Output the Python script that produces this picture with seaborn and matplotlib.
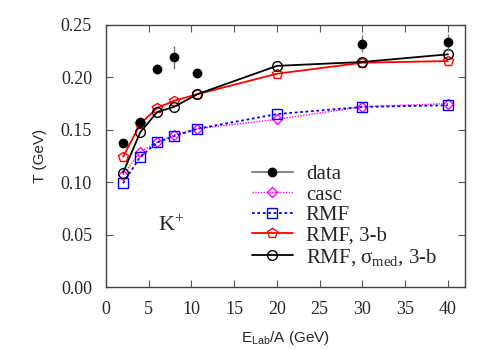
import matplotlib
matplotlib.use("Agg")
import matplotlib.pyplot as plt
import seaborn as sns
import pandas as pd
from matplotlib.lines import Line2D

E = [2, 4, 6, 8, 10.7, 20, 30, 40]
E_data = [2, 4, 6, 8, 10.7, 30, 40]
T_data = [0.1377, 0.1577, 0.208, 0.219, 0.204, 0.232, 0.2335]
T_err = [0.003, 0.003, 0.005, 0.011, 0.005, 0.008, 0.008]
T_casc = [0.107, 0.129, 0.138, 0.145, 0.151, 0.160, 0.172, 0.175]
T_rmf = [0.099, 0.1243, 0.138, 0.144, 0.151, 0.165, 0.1718, 0.1734]
T_rmf3b = [0.1243, 0.1555, 0.171, 0.1778, 0.184, 0.2035, 0.214, 0.2156]
T_rmfsig = [0.109, 0.1476, 0.167, 0.172, 0.184, 0.211, 0.2147, 0.222]

sns.set_style("ticks")
plt.rcParams["mathtext.fontset"] = "custom"
plt.rcParams["mathtext.rm"] = "Liberation Serif"
plt.rcParams["mathtext.it"] = "Liberation Serif:italic"
plt.rcParams["mathtext.sf"] = "Liberation Sans"
serif = ["Liberation Serif", "DejaVu Serif"]
sans = ["Liberation Sans", "DejaVu Sans"]

fig = plt.figure(figsize=(5, 3.5), dpi=100)
ax = fig.add_axes([0.212, 0.18, 0.718, 0.7486])

df = pd.DataFrame({"E": E, "casc": T_casc, "RMF": T_rmf, "RMF3b": T_rmf3b, "RMFsig": T_rmfsig})

sns.lineplot(data=df, x="E", y="casc", ax=ax, color="#ff00ff", linestyle=(0, (1, 1)), lw=1.0,
             marker="D", markersize=5, markerfacecolor="none", markeredgecolor="#ff00ff", markeredgewidth=1.0)
sns.lineplot(data=df, x="E", y="RMF", ax=ax, color="#0000ff", linestyle=(0, (1.5, 1.5)), lw=1.3,
             marker="s", markersize=6.5, markerfacecolor="none", markeredgecolor="#0000ff", markeredgewidth=1.0)
sns.lineplot(data=df, x="E", y="RMF3b", ax=ax, color="#ff0000", lw=1.3,
             marker="p", markersize=7.5, markerfacecolor="none", markeredgecolor="#ff0000", markeredgewidth=1.0)
sns.lineplot(data=df, x="E", y="RMFsig", ax=ax, color="black", lw=1.3,
             marker="o", markersize=7, markerfacecolor="none", markeredgecolor="black", markeredgewidth=1.0)
ax.errorbar(E_data, T_data, yerr=T_err, fmt="o", color="black", ecolor="#777777",
            elinewidth=1.0, markersize=6, capsize=0, zorder=5)

ax.set_xlim(0, 42)
ax.set_ylim(0, 0.25)
ax.set_xticks(range(0, 41, 5))
ax.set_yticks([0, 0.05, 0.10, 0.15, 0.20, 0.25])
ax.set_yticklabels(["0.00", "0.05", "0.10", "0.15", "0.20", "0.25"])
ax.tick_params(direction="in", top=True, right=True, length=5, width=0.8, color="#555555",
               labelsize=13)
ax.tick_params(axis="x", pad=10)
ax.tick_params(axis="y", pad=10)
for lab in ax.get_xticklabels() + ax.get_yticklabels():
    lab.set_family(serif)
for s in ax.spines.values():
    s.set_color("#444444")
    s.set_linewidth(1.0)

ax.set_xlabel(r"E$_{\mathsf{Lab}}$/A (GeV)", family=sans, fontsize=11, labelpad=8)
ax.set_ylabel("T (GeV)", family=sans, fontsize=11, labelpad=10)

ax.text(6.1, 0.058, r"K$^{+}$", family=serif, fontsize=16, ha="left", va="center")

handles = [
    Line2D([], [], color="#888888", lw=1.5, marker="o", markersize=6, markerfacecolor="black", markeredgecolor="black"),
    Line2D([], [], color="#ff00ff", lw=1.0, linestyle=(0, (1, 1)), marker="D", markersize=5, markerfacecolor="none"),
    Line2D([], [], color="#0000ff", lw=1.3, linestyle=(0, (1.5, 1.5)), marker="s", markersize=6.5, markerfacecolor="none"),
    Line2D([], [], color="#ff0000", lw=1.3, marker="p", markersize=7.5, markerfacecolor="none"),
    Line2D([], [], color="black", lw=1.3, marker="o", markersize=7, markerfacecolor="none"),
]
labels = ["data", "casc", "RMF", "RMF, 3-b", "RMF, σ$_{\\mathrm{med}}$, 3-b"]
leg = ax.legend(handles, labels, loc="lower left", bbox_to_anchor=(0.365, 0.018), frameon=False,
                prop={"family": serif, "size": 15}, handlelength=2.0, handletextpad=0.6,
                labelspacing=0.05, borderaxespad=0.3)

fig.savefig("out.png", dpi=100)
